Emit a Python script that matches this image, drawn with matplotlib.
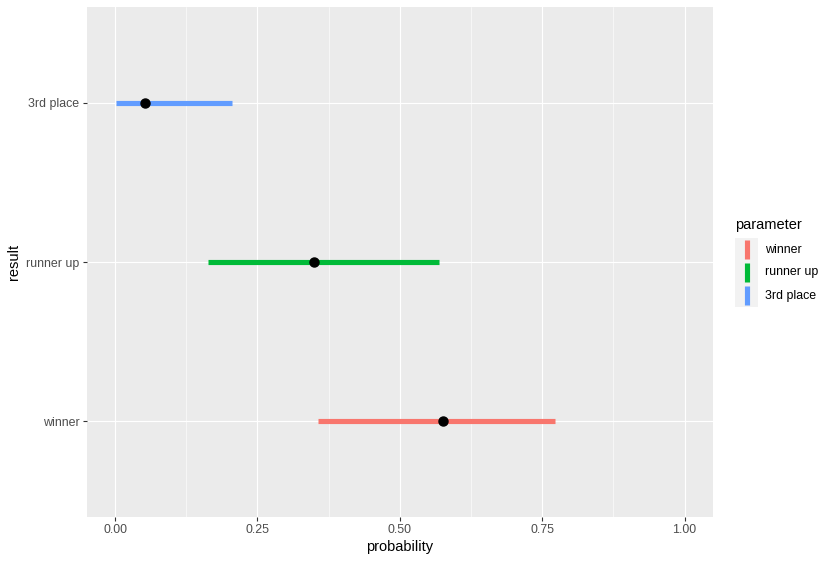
import matplotlib
matplotlib.use("Agg")
import matplotlib.pyplot as plt
from matplotlib.patches import Rectangle
from matplotlib.lines import Line2D

plt.rcParams['font.family'] = ['Liberation Sans', 'DejaVu Sans']

categories = ["winner", "runner up", "3rd place"]
lower = [0.356, 0.164, 0.002]
upper = [0.773, 0.568, 0.205]
estimate = [0.576, 0.350, 0.053]
colors = ["#F8766D", "#00BA38", "#619CFF"]
xticks = [0.0, 0.25, 0.5, 0.75, 1.0]
xticklabels = ["0.00", "0.25", "0.50", "0.75", "1.00"]

W, H = 833, 561
fig = plt.figure(figsize=(W / 100, H / 100), dpi=100)
left, right, top, bottom = 86.6, 713, 7, 517
ax = fig.add_axes([left / W, 1 - bottom / H, (right - left) / W, (bottom - top) / H])
ax.set_facecolor("#EBEBEB")
for s in ax.spines.values():
    s.set_visible(False)

ypos = list(range(1, len(categories) + 1))
ax.set_xlim(-0.05, 1.05)
ax.set_ylim(0.4, 3.6)

# grid
for x in xticks:
    ax.axvline(x, color="white", lw=0.8, zorder=0)
for i in range(len(xticks) - 1):
    ax.axvline((xticks[i] + xticks[i + 1]) / 2, color="white", lw=0.4, zorder=0)
for y in ypos:
    ax.axhline(y, color="white", lw=0.8, zorder=0)

for y, lo, hi, est, c in zip(ypos, lower, upper, estimate, colors):
    ax.hlines(y, lo, hi, color=c, lw=3.7, zorder=2, capstyle="butt")
    ax.plot([est], [y], "o", color="black", ms=6.5, zorder=3)

ax.set_xticks(xticks)
ax.set_xticklabels(xticklabels)
ax.set_yticks(ypos)
ax.set_yticklabels(categories)
ax.tick_params(axis="both", which="major", length=2.7, width=0.8, color="#333333",
               labelsize=8.9, labelcolor="#4D4D4D", pad=2.5)
ax.set_xlabel("probability", fontsize=10.5, color="black", labelpad=3)
ax.set_ylabel("result", fontsize=10.5, color="black", labelpad=4)

# legend (manual, ggplot style)
def fx(px):
    return px / W
def fy(py):
    return 1 - py / H

fig.text(fx(735), fy(225), "parameter", fontsize=10.5, color="black", va="center", ha="left")
key_top = 238
key_h = 23
for i, (cat, c) in enumerate(zip(categories, colors)):
    y0 = key_top + i * key_h
    fig.patches.append(Rectangle((fx(735), fy(y0 + key_h)), fx(758) - fx(735),
                                 fy(y0) - fy(y0 + key_h), transform=fig.transFigure,
                                 facecolor="#F2F2F2", edgecolor="none"))
    fig.lines.append(Line2D([fx(746.5), fx(746.5)], [fy(y0 + 2), fy(y0 + key_h - 2)],
                            transform=fig.transFigure, color=c, lw=3.7,
                            solid_capstyle="butt"))
    fig.text(fx(765), fy(y0 + key_h / 2), cat, fontsize=8.9, color="black",
             va="center", ha="left")

fig.savefig("out.png", dpi=100, facecolor="white")
